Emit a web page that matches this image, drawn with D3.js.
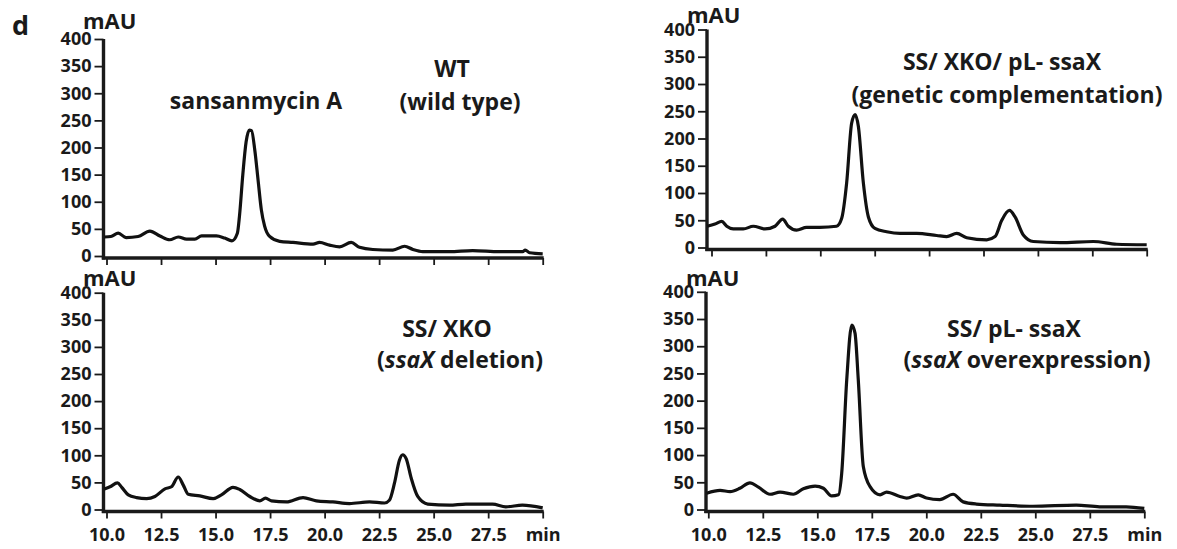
<!DOCTYPE html>
<html>
<head>
<meta charset="utf-8">
<script src="https://cdn.jsdelivr.net/npm/d3@7"></script>
<style>
  body { margin: 0; background: #fff; }
  svg text { font-family: "Open Sans", "DejaVu Sans", sans-serif; font-weight: bold; fill: #1a1a1a; }
</style>
</head>
<body>
<svg id="chart" width="1177" height="549"></svg>
<script>
// retention time (min) and absorbance (mAU)
var timeWT = [9.9, 10.2, 10.54, 10.9, 11.45, 11.99, 12.45, 12.9, 13.29, 13.67, 14.05, 14.36, 15.04, 15.42, 15.75, 16.0, 16.1, 16.25, 16.4, 16.55, 16.65, 16.8, 16.95, 17.1, 17.25, 17.48, 17.94, 18.55, 19.47, 19.77, 20.23, 20.69, 21.22, 21.6, 22.21, 23.13, 23.67, 24.05, 24.5, 25.72, 26.79, 28.01, 29.08, 29.2, 29.4, 30.0];
var mauWT = [35, 36, 42, 34, 36, 46, 37, 30, 35, 31, 31, 37, 37, 33, 28, 42, 75, 150, 210, 232, 231, 195, 140, 85, 55, 36, 27, 25, 22, 25, 20, 17, 25, 16, 12, 11, 18, 12, 8, 8, 10, 8, 8, 11, 6, 4];

var timeKO = [9.9, 10.16, 10.5, 10.7, 11.0, 11.38, 11.84, 12.22, 12.68, 12.98, 13.29, 13.52, 13.75, 14.28, 14.89, 15.27, 15.8, 16.11, 16.57, 17.03, 17.29, 17.56, 18.25, 19.01, 19.62, 20.38, 21.14, 22.06, 22.75, 22.97, 23.2, 23.43, 23.58, 23.74, 23.97, 24.27, 24.73, 25.72, 26.48, 27.7, 28.31, 29.07, 30.0];
var mauKO = [38, 42, 49, 41, 27, 22, 20, 24, 38, 42, 60, 45, 28, 25, 20, 27, 41, 37, 24, 16, 21, 16, 14, 22, 16, 14, 11, 14, 12, 17, 48, 91, 101, 94, 58, 24, 10, 8, 10, 10, 5, 8, 3];

var timeComp = [9.8, 10.16, 10.47, 10.7, 11.0, 11.46, 11.92, 12.46, 12.92, 13.27, 13.53, 13.91, 14.37, 14.98, 15.75, 15.98, 16.21, 16.44, 16.6, 16.75, 16.98, 17.21, 17.51, 18.05, 18.66, 19.43, 20.35, 20.81, 21.27, 21.73, 22.65, 23.03, 23.34, 23.69, 23.95, 24.33, 24.79, 26.02, 27.55, 28.62, 30.0];
var mauComp = [39, 43, 48, 39, 34, 34, 39, 34, 39, 52, 39, 32, 37, 37, 39, 53, 118, 228, 244, 222, 118, 56, 35, 29, 26, 26, 22, 20, 26, 18, 14, 20, 50, 68, 56, 23, 11, 9, 11, 6, 5];

var timeOE = [9.93, 10.54, 11.0, 11.45, 11.91, 12.3, 12.83, 13.29, 13.9, 14.36, 14.9, 15.28, 15.66, 15.97, 16.12, 16.35, 16.58, 16.73, 16.88, 17.11, 17.42, 17.88, 18.18, 18.79, 19.1, 19.63, 20.01, 20.62, 21.23, 21.69, 22.3, 23.37, 24.89, 26.88, 27.95, 29.17, 30.0];
var mauOE = [30, 35, 33, 39, 49, 41, 28, 32, 28, 38, 43, 39, 25, 27, 67, 238, 339, 324, 238, 79, 42, 27, 32, 24, 21, 27, 21, 18, 28, 14, 10, 8, 6, 8, 5, 5, 2];

var xTicks = [10, 12.5, 15, 17.5, 20, 22.5, 25, 27.5, 30];
var yTicks = [0, 50, 100, 150, 200, 250, 300, 350, 400];

var svg = d3.select("#chart");

var panels = [
    { time: timeWT, mau: mauWT, x0: 106.5, x1: 542.7, yTop: 39, yBot: 256, axisX: 103.5, labels: false, mauX: 83, mauY: 29,
      title: [{ t: "WT", x: 452, y: 77 }, { t: "(wild type)", x: 460, y: 110 }] },
    { time: timeKO, mau: mauKO, x0: 106.5, x1: 542.7, yTop: 292.7, yBot: 509.5, axisX: 103.5, labels: true, mauX: 83, mauY: 286,
      title: [{ t: "SS/ XKO", x: 447, y: 337 }, { t: "deletion)", italic: "ssaX", x: 460, y: 368 }] },
    { time: timeComp, mau: mauComp, x0: 711.5, x1: 1146.7, yTop: 29.5, yBot: 247.5, axisX: 707, labels: false, mauX: 687, mauY: 23,
      title: [{ t: "SS/ XKO/ pL- ssaX", x: 1002, y: 70 }, { t: "(genetic complementation)", x: 1007, y: 103 }] },
    { time: timeOE, mau: mauOE, x0: 708.3, x1: 1144.3, yTop: 291.8, yBot: 509.5, axisX: 706, labels: true, mauX: 686, mauY: 286,
      title: [{ t: "SS/ pL- ssaX", x: 1014, y: 337 }, { t: "overexpression)", italic: "ssaX", x: 1027, y: 368 }] }
];

svg.append("text")
    .attr("x", 12).attr("y", 35)
    .style("font-size", "27px")
    .text("d");

panels.forEach(function (p) {
    var x = d3.scaleLinear().domain([10, 30]).range([p.x0, p.x1]);
    var y = d3.scaleLinear().domain([0, 400]).range([p.yBot, p.yTop]);
    var g = svg.append("g");

    // y axis
    var ya = g.append("g")
        .attr("transform", "translate(" + p.axisX + ",0)")
        .call(d3.axisLeft(y).tickValues(yTicks).tickSize(9).tickPadding(3));
    ya.select(".domain").remove();
    ya.selectAll(".tick line").attr("stroke", "#1a1a1a").attr("stroke-width", 1.8);
    ya.selectAll(".tick text").style("font-size", "18px").attr("fill", "#1a1a1a");

    // x axis (top panels carry tick marks only)
    var xa = g.append("g")
        .attr("transform", "translate(0," + (y(0) + 2) + ")")
        .call(d3.axisBottom(x).tickValues(xTicks).tickSize(7).tickPadding(10)
            .tickFormat(function (d) { return d === 30 ? "min" : d3.format(".1f")(d); }));
    xa.select(".domain").remove();
    xa.selectAll(".tick line").attr("stroke", "#1a1a1a").attr("stroke-width", 1.8);
    if (p.labels) {
        xa.selectAll(".tick text").style("font-size", "18px").attr("fill", "#1a1a1a");
    } else {
        xa.selectAll(".tick text").remove();
    }

    // heavy axis lines
    g.append("line")
        .attr("x1", p.axisX).attr("x2", p.axisX)
        .attr("y1", y(400)).attr("y2", y(0) + 3.5)
        .attr("stroke", "#1a1a1a").attr("stroke-width", 3.4);
    g.append("line")
        .attr("x1", p.axisX - 1.7).attr("x2", x(30) + 1)
        .attr("y1", y(0) + 2).attr("y2", y(0) + 2)
        .attr("stroke", "#1a1a1a").attr("stroke-width", 3.4);

    g.append("text")
        .attr("x", p.mauX).attr("y", p.mauY)
        .style("font-size", "22px")
        .text("mAU");

    var pts = p.time.map(function (t, i) { return [t, p.mau[i]]; });
    var line = d3.line()
        .x(function (d) { return x(d[0]); })
        .y(function (d) { return y(d[1]); })
        .curve(d3.curveMonotoneX);

    g.append("path")
        .datum(pts)
        .attr("d", line)
        .attr("fill", "none")
        .attr("stroke", "#111")
        .attr("stroke-width", 3.2)
        .attr("stroke-linejoin", "round");

    p.title.forEach(function (tt) {
        var txt = g.append("text")
            .attr("x", tt.x).attr("y", tt.y)
            .attr("text-anchor", "middle")
            .style("font-size", "23px");
        if (tt.italic) {
            txt.append("tspan").text("(");
            txt.append("tspan").style("font-style", "italic").text(tt.italic);
            txt.append("tspan").text(" " + tt.t);
        } else {
            txt.text(tt.t);
        }
    });
});

svg.append("text")
    .attr("x", 256).attr("y", 109)
    .attr("text-anchor", "middle")
    .style("font-size", "23px")
    .text("sansanmycin A");
</script>
</body>
</html>
